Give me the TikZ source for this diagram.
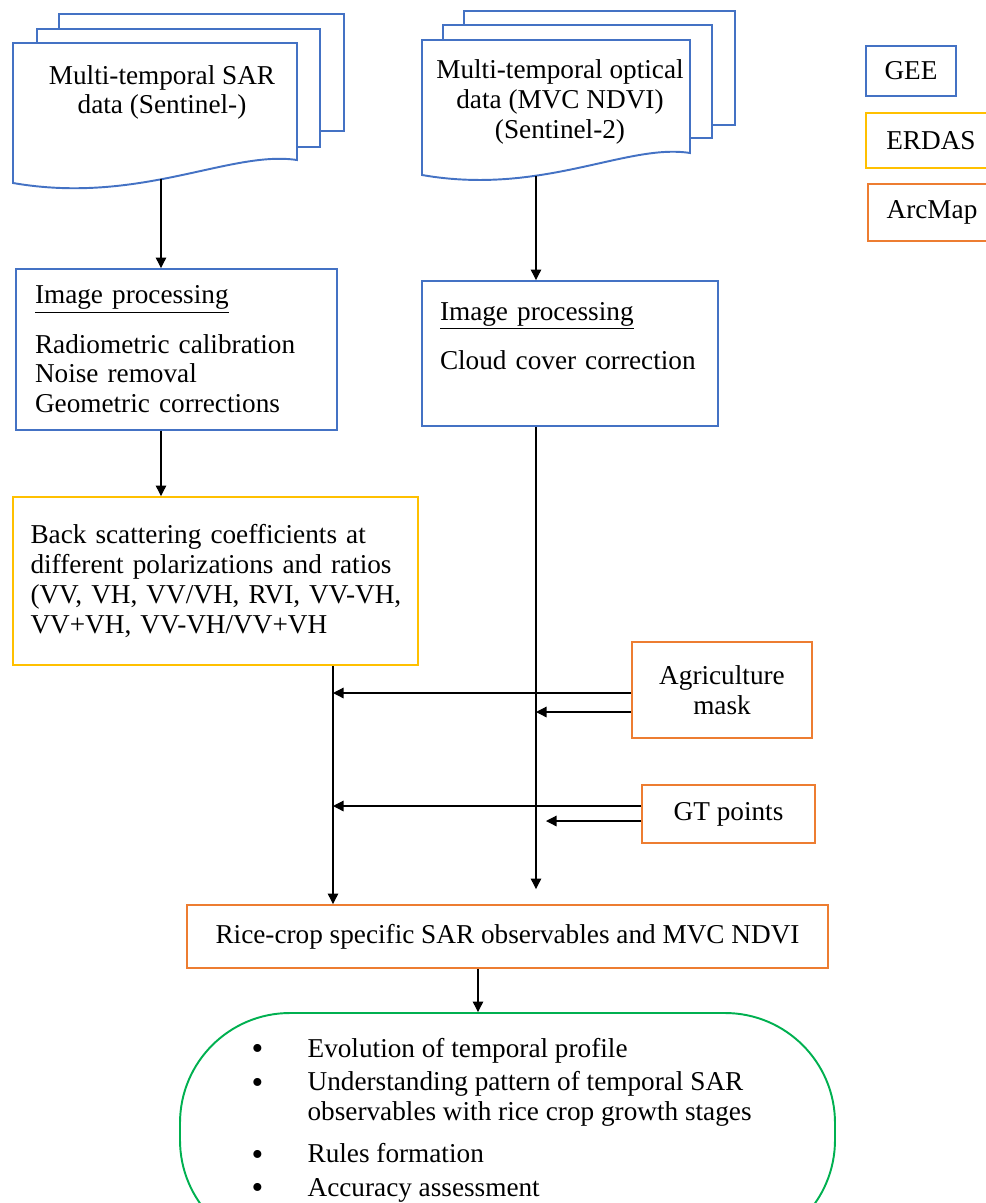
\documentclass[tikz,border=0pt]{standalone}
\usepackage{fontspec}
\setmainfont{Liberation Serif}
\usetikzlibrary{arrows.meta,calc}
\definecolor{gblue}{RGB}{68,114,196}
\definecolor{gyellow}{RGB}{255,192,0}
\definecolor{gorange}{RGB}{237,125,49}
\definecolor{ggreen}{RGB}{0,176,80}
\newcommand\bigbul{\raisebox{-1.2pt}{\fontsize{19}{17}\selectfont\textbullet}}

\begin{document}
\begin{tikzpicture}[line width=0.7pt,
    every node/.style={font=\fontsize{15.5}{17}\selectfont},
    >={Triangle[length=6pt,width=6pt]},
    docpage/.style={draw=gblue,fill=white,line width=1.1pt},
    box/.style={draw=#1,line width=1.1pt,inner sep=0pt}]
  \useasboundingbox (0,0) rectangle (19.72,-24.06);
  \clip (0,0) rectangle (19.72,-24.06);
  % SAR stack
  \draw[docpage](1.18,-0.28)rectangle(6.88,-2.62);
  \draw[docpage](0.74,-0.58)rectangle(6.40,-2.94);
  \draw[docpage](0.26,-0.86)--(5.94,-0.86)--(5.94,-3.2)
    ..controls +(-1.34,0.2) and +(2.54,-0.44)..(0.26,-3.66)--cycle;
  \node[align=center](sar) at (3.24,-1.85){Multi-temporal SAR\\data (Sentinel-)};
  \coordinate(sarb) at (3.22,-3.57);
  % optical stack
  \draw[docpage](9.28,-0.22)rectangle(14.7,-2.5);
  \draw[docpage](8.86,-0.5)rectangle(14.24,-2.76);
  \draw[docpage](8.44,-0.8)--(13.8,-0.8)--(13.8,-3.06)
    ..controls +(-1.26,0.2) and +(2.4,-0.42)..(8.44,-3.5)--cycle;
  \node[align=center](opt) at (11.2,-2.04){Multi-temporal optical\\data (MVC NDVI)\\(Sentinel-2)};
  \coordinate(optb) at (10.72,-3.52);
  % legend
  \node[box=gblue,minimum width=1.8cm,minimum height=1cm](gee) at (18.22,-1.42){GEE};
  \node[box=gyellow,minimum width=2.6cm,minimum height=1.1cm](erdas) at (18.62,-2.81){ERDAS};
  \node[box=gorange,minimum width=2.56cm,minimum height=1.14cm](arc) at (18.64,-4.25){ArcMap};
  % processing
  \node[box=gblue,minimum width=6.42cm,minimum height=3.22cm,text width=5.66cm,
    inner xsep=0.38cm,align=left](ip1) at (3.53,-6.99)
    {\underline{Image processing}\\[11pt]Radiometric calibration\\Noise removal\\Geometric corrections};
  \node[box=gblue,minimum width=5.92cm,minimum height=2.9cm,text width=5.2cm,
    inner xsep=0.36cm,align=left](ip2) at (11.4,-7.07)
    {\underline{Image processing}\\[11pt]Cloud cover correction\\[3pt]~};
  \node[box=gyellow,minimum width=8.1cm,minimum height=3.36cm,text width=7.4cm,
    inner xsep=0.35cm,align=left](bsc) at (4.31,-11.62)
    {Back scattering coefficients at\\different polarizations and ratios\\
     \mbox{(VV, VH, VV/VH, RVI, VV-VH,}\\VV+VH, VV-VH/VV+VH};
  \node[box=gorange,minimum width=3.6cm,minimum height=1.92cm,align=center](agri)
    at (14.44,-13.8){Agriculture\\mask};
  \node[box=gorange,minimum width=3.46cm,minimum height=1.16cm](gt) at (14.57,-16.28){GT points};
  \node[box=gorange,minimum width=12.82cm,minimum height=1.26cm](rice) at (10.15,-18.73)
    {Rice-crop specific SAR observables and MVC NDVI};
  \node[box=ggreen,minimum width=13.1cm,minimum height=4.74cm,rounded corners=2.2cm](res)
    at (10.15,-22.63){};
  \node[anchor=base west,inner sep=0pt](items) at (5.02,-21.15){%
    \begin{tabular}[t]{@{}p{1.12cm}@{}l@{}}
    \bigbul & Evolution of temporal profile\\[2pt]
    \bigbul & Understanding pattern of temporal SAR\\
            & observables with rice crop growth stages\\[7pt]
    \bigbul & Rules formation\\[2pt]
    \bigbul & Accuracy assessment
    \end{tabular}};
  % connectors
  \coordinate(xl) at (6.66,0);
  \coordinate(rb) at (9.56,0);
  \coordinate(a1) at ([yshift=-0.06cm]agri.west);
  \coordinate(a2) at ([yshift=-0.44cm]agri.west);
  \coordinate(g1) at ([yshift=0.16cm]gt.west);
  \coordinate(g2) at ([yshift=-0.14cm]gt.west);
  \draw[->](sarb)--(sarb|-ip1.north);
  \draw[->](sarb|-ip1.south)--(sarb|-bsc.north);
  \draw[->](optb)--(optb|-ip2.north);
  \draw[->](optb|-ip2.south)--($(optb|-rice.north)+(0,0.3)$);
  \draw[->](xl|-bsc.south)--(xl|-rice.north);
  \draw[->](a1)--(a1-|xl);
  \draw[->](a2)--(a2-|optb);
  \draw[->](g1)--(g1-|xl);
  \draw[->](g2)--($(g2-|optb)+(0.2,0)$);
  \draw[->](rb|-rice.south)--(rb|-res.north);
\end{tikzpicture}
\end{document}
